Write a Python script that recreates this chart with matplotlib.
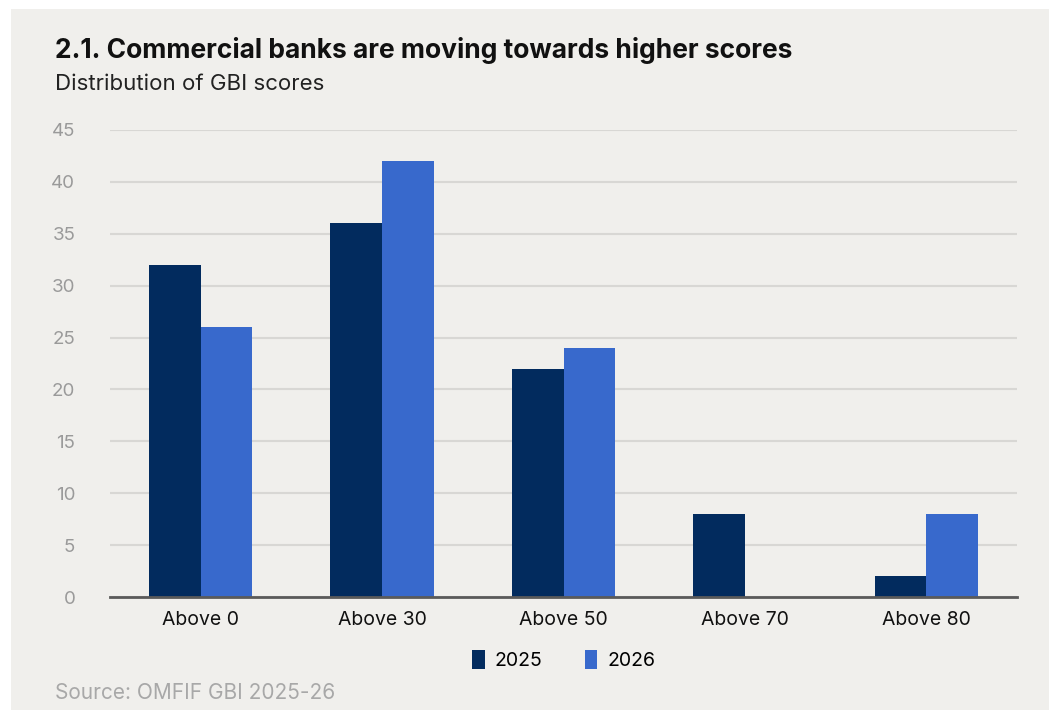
import numpy as np
import matplotlib
matplotlib.use('Agg')
import matplotlib.pyplot as plt
from matplotlib.patches import Rectangle

categories = ['Above 0', 'Above 30', 'Above 50', 'Above 70', 'Above 80']
series_names = ['2025', '2026']
values_2025 = [32, 36, 22, 8, 2]
values_2026 = [26, 42, 24, 0, 8]
yticks = [0, 5, 10, 15, 20, 25, 30, 35, 40, 45]

C_2025 = '#022b5e'
C_2026 = '#3869cc'
BG = '#f0efec'
FONT = ['Inter', 'DejaVu Sans']

plt.rcParams['font.family'] = FONT

fig = plt.figure(figsize=(10.57, 7.2), dpi=100)
fig.patch.set_facecolor('white')
# grey card behind everything
fig.patches.append(Rectangle((11 / 1057, 1 - 710 / 720), 1038 / 1057, 701 / 720,
                             transform=fig.transFigure, facecolor=BG,
                             edgecolor='none', zorder=-10))

ax = fig.add_axes([110 / 1057, 1 - 597 / 720, 907 / 1057, 467 / 720])
ax.set_facecolor(BG)

x = np.arange(len(categories))
w = 0.285
ax.bar(x - w / 2, values_2025, width=w, color=C_2025, label=series_names[0], zorder=3)
ax.bar(x + w / 2, values_2026, width=w, color=C_2026, label=series_names[1], zorder=3)

ax.set_xlim(-0.5, len(categories) - 0.5)
ax.set_ylim(0, 45)
ax.set_yticks(yticks)
ax.set_xticks(x)
ax.set_xticklabels(categories, fontsize=14, color='#111111')
ax.tick_params(axis='y', length=0, pad=25, labelsize=13.5, labelcolor='#9a9a9a')
ax.tick_params(axis='x', length=0, pad=10)
ax.grid(axis='y', color='#d8d7d4', lw=1.5, zorder=0)
for s in ['top', 'right', 'left']:
    ax.spines[s].set_visible(False)
ax.spines['bottom'].set_color('#5a5a5a')
ax.spines['bottom'].set_linewidth(2)
ax.spines['bottom'].set_zorder(4)

leg = ax.legend(loc='center', bbox_to_anchor=(0.5, -0.135), ncol=2, frameon=False,
                fontsize=14, handlelength=0.65, handleheight=1.15, handletextpad=0.5,
                columnspacing=2.2)

fig.text(55 / 1057, 1 - 50 / 720, '2.1. Commercial banks are moving towards higher scores',
         fontsize=19, fontweight='bold', color='#111111', va='center')
fig.text(55 / 1057, 1 - 84 / 720, 'Distribution of GBI scores',
         fontsize=16, color='#222222', va='center')
fig.text(55 / 1057, 1 - 693 / 720, 'Source: OMFIF GBI 2025-26',
         fontsize=15, color='#a8a8a8', va='center')

fig.savefig('out.png', dpi=100, facecolor=fig.get_facecolor())
